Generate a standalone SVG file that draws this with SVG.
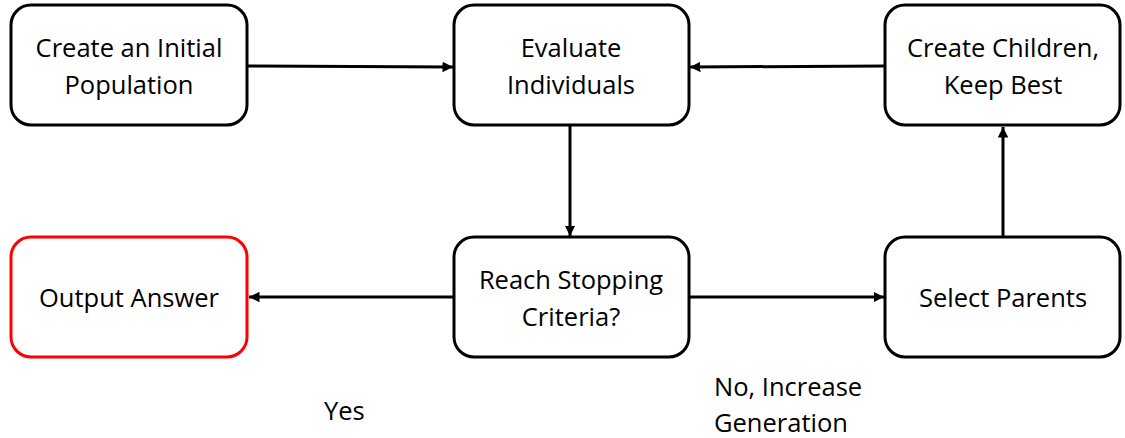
<svg xmlns="http://www.w3.org/2000/svg" width="1125" height="438" viewBox="0 0 1125 438">
<style>
.box{fill:#fff;stroke:#000;stroke-width:3}
.red{stroke:#f00}
text{font-family:"Open Sans","Noto Sans",sans-serif;font-size:25.5px;fill:#000;text-anchor:middle}
.lbl{text-anchor:start}
.c{stroke:#000;stroke-width:3;fill:none;marker-end:url(#ah)}
</style>
<defs>
<marker id="ah" viewBox="0 0 10 10" refX="10" refY="5" markerWidth="3.5" markerHeight="3.5" orient="auto" markerUnits="strokeWidth">
<path d="M0,0 L10,5 L0,10 z" fill="#000"/>
</marker>
</defs>
<g id="n1"><rect class="box" x="11" y="5" width="236" height="120" rx="20"/><text x="129" y="57">Create an Initial</text><text x="129" y="94">Population</text></g>
<g id="n2"><rect class="box" x="454" y="5" width="235" height="120" rx="20"/><text x="571" y="57">Evaluate</text><text x="571" y="94">Individuals</text></g>
<g id="n3"><rect class="box" x="885" y="5" width="235" height="120" rx="20"/><text x="1003" y="57">Create Children,</text><text x="1003" y="94">Keep Best</text></g>
<g id="n4"><rect class="box red" x="11" y="237" width="236" height="120" rx="20"/><text x="129" y="307">Output Answer</text></g>
<g id="n5"><rect class="box" x="454" y="237" width="235" height="120" rx="20"/><text x="571" y="289">Reach Stopping</text><text x="571" y="326">Criteria?</text></g>
<g id="n6"><rect class="box" x="885" y="237" width="235" height="120" rx="20"/><text x="1003" y="307">Select Parents</text></g>
<g id="connectors">
<path class="c" d="M247,66 L453,67"/>
<path class="c" d="M885,66 L690,67"/>
<path class="c" d="M570,125 L570,236"/>
<path class="c" d="M454,297 L249,297"/>
<path class="c" d="M689,297 L884,297"/>
<path class="c" d="M1003,237 L1003,127"/>
</g>
<text class="lbl" x="324" y="420">Yes</text>
<text class="lbl" x="714" y="396">No, Increase</text>
<text class="lbl" x="714" y="432">Generation</text>
</svg>
